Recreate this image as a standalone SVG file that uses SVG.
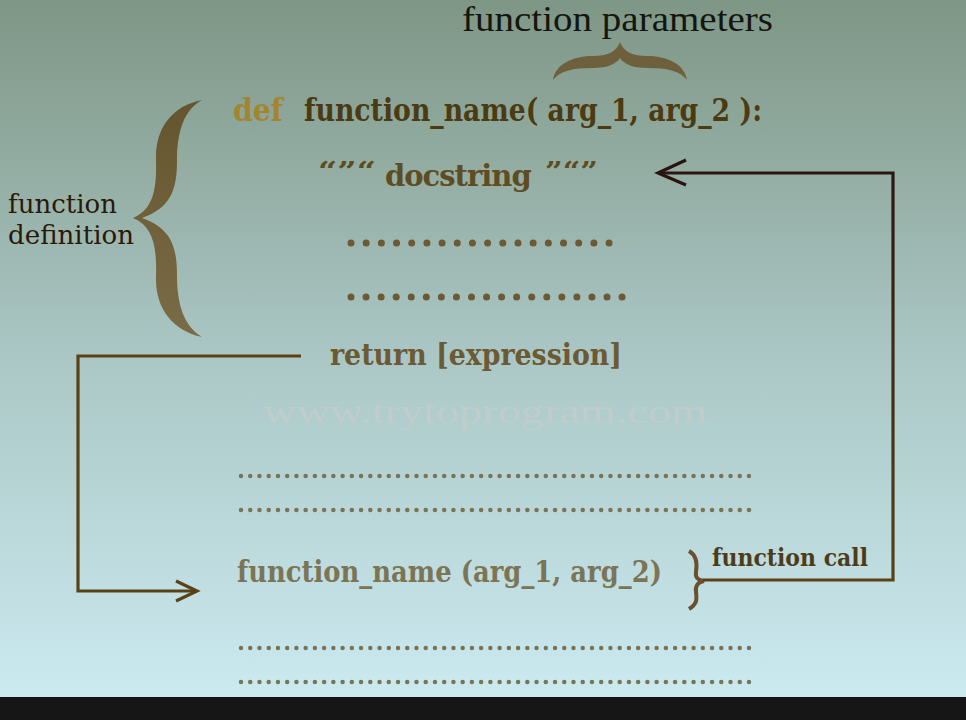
<svg xmlns="http://www.w3.org/2000/svg" width="966" height="720" viewBox="0 0 966 720">
  <defs>
    <linearGradient id="bg" x1="0" y1="0" x2="0" y2="697" gradientUnits="userSpaceOnUse">
      <stop offset="0" stop-color="#7e9685"/>
      <stop offset="0.5" stop-color="#aac6c4"/>
      <stop offset="1" stop-color="#cbeaf0"/>
    </linearGradient>
    <linearGradient id="conn" x1="0" y1="160" x2="0" y2="600" gradientUnits="userSpaceOnUse">
      <stop offset="0" stop-color="#2b1410"/>
      <stop offset="1" stop-color="#5e4418"/>
    </linearGradient>
    <linearGradient id="brace" x1="0" y1="100" x2="0" y2="337" gradientUnits="userSpaceOnUse">
      <stop offset="0" stop-color="#65552f"/>
      <stop offset="1" stop-color="#7a6c47"/>
    </linearGradient>
  </defs>
  <style>
    .code { font-family: "DejaVu Serif", "Liberation Serif", serif; font-weight: bold; }
    .label { font-family: "DejaVu Serif", "Liberation Serif", serif; }
    .thin { font-family: "Liberation Serif", "DejaVu Serif", serif; }
    .bigdots { fill: none; stroke: #6b5a35; stroke-width: 7; stroke-linecap: round; }
    .smalldots { fill: none; stroke: #7a7455; stroke-width: 4.5; stroke-linecap: round; stroke-dasharray: 0 9.236; }
    .wire { fill: none; stroke-width: 3.2; stroke-linejoin: miter; }
  </style>

  <rect x="0" y="0" width="966" height="697" fill="url(#bg)"/>
  <rect x="0" y="697" width="966" height="23" fill="#161616"/>

  <g id="watermark">
    <text class="thin" x="263" y="423" font-size="34" fill="#bfcdcc" textLength="444" lengthAdjust="spacingAndGlyphs">www.trytoprogram.com</text>
  </g>

  <g id="function-parameters-label">
    <text class="thin" x="462" y="31" font-size="36" fill="#15150f" textLength="311" lengthAdjust="spacingAndGlyphs">function parameters</text>
    <path d="M553,80 C555,65 572,56 592,56 C608,56 616,52 620,42 C624,52 632,56 648,56 C668,56 685,65 687,80 C680,71 668,68 648,68 C632,68 624,64 620,58 C616,64 608,68 592,68 C572,68 560,71 553,80 Z" fill="#6e603c"/>
  </g>

  <g id="def-line">
    <text class="code" x="233" y="121" font-size="31" fill="#a38530" textLength="50" lengthAdjust="spacingAndGlyphs">def</text>
    <text class="code" x="304" y="121" font-size="31" fill="#4b3a12" textLength="458" lengthAdjust="spacingAndGlyphs">function_name( arg_1, arg_2 ):</text>
  </g>

  <g id="function-definition-label">
    <text class="label" x="8" y="213" font-size="26" fill="#2b1808" textLength="109" lengthAdjust="spacingAndGlyphs">function</text>
    <text class="label" x="8" y="244" font-size="26" fill="#2b1808" textLength="126" lengthAdjust="spacingAndGlyphs">definition</text>
    <path d="M202,100 C172,106 155,128 156,160 C157,192 152,210 133,218 C152,226 157,244 156,276 C155,308 172,330 202,337 C184,326 177,305 177,275 C177,245 170,228 142,218 C170,208 177,191 177,161 C177,131 184,110 202,100 Z" fill="url(#brace)"/>
  </g>

  <g id="docstring">
    <text class="code" x="318" y="180" font-size="26" fill="#5e4c22" textLength="58" lengthAdjust="spacingAndGlyphs">“”“</text>
    <text class="code" x="385" y="186" font-size="29" letter-spacing="-1" fill="#5e4c22">docstring</text>
    <text class="code" x="545" y="180" font-size="26" fill="#5e4c22" textLength="53" lengthAdjust="spacingAndGlyphs">”“”</text>
  </g>

  <g id="body-dots">
    <line class="bigdots" x1="351" y1="243" x2="609.1" y2="243" stroke-dasharray="0 15.18"/>
    <line class="bigdots" x1="351" y1="297" x2="622.1" y2="297" stroke-dasharray="0 15.06"/>
  </g>

  <g id="return">
    <text class="code" x="330" y="365" font-size="29" fill="#6b5a33" textLength="292" lengthAdjust="spacingAndGlyphs">return [expression]</text>
  </g>

  <g id="program-dots-before">
    <line class="smalldots" x1="241" y1="476" x2="749.1" y2="476"/>
    <line class="smalldots" x1="241" y1="510" x2="749.1" y2="510"/>
  </g>

  <g id="function-call-code">
    <text class="code" x="237" y="582" font-size="29" fill="#7b7556" textLength="425" lengthAdjust="spacingAndGlyphs">function_name (arg_1, arg_2)</text>
  </g>

  <g id="function-call-label">
    <path d="M689,551 C698,556 697,566 696,572 C695,578 698,580 704,581 C698,582 695,586 696,592 C697,600 697,604 689,609" fill="none" stroke="#6b5030" stroke-width="4"/>
    <text class="code" x="712" y="566" font-size="24" fill="#4d3c1a" textLength="156" lengthAdjust="spacingAndGlyphs">function call</text>
  </g>

  <g id="program-dots-after">
    <line class="smalldots" x1="241" y1="648" x2="749.1" y2="648"/>
    <line class="smalldots" x1="241" y1="682" x2="749.1" y2="682"/>
  </g>

  <g id="connectors">
    <path class="wire" stroke="#5a4218" d="M301,356 H78 V591 H196"/>
    <path class="wire" stroke="#5a4218" d="M176,581 L197,591 L176,601"/>
    <path class="wire" stroke="url(#conn)" d="M703,580 H893 V173 H660"/>
    <path class="wire" stroke="#2b1410" d="M686,160 L658,173 L686,185"/>
  </g>
</svg>
